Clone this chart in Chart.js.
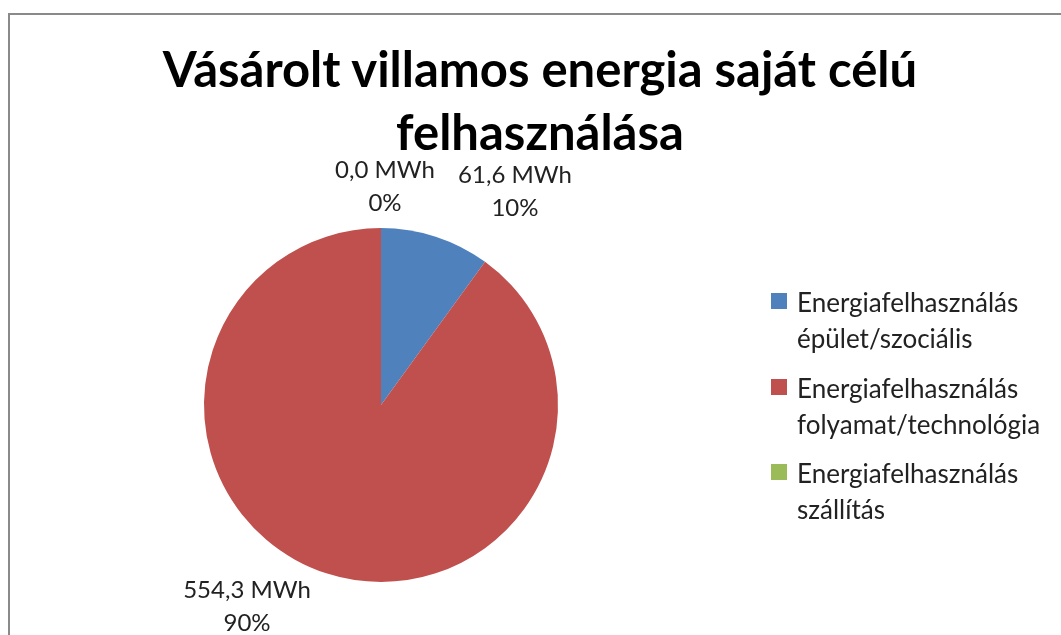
<!DOCTYPE html>
<html lang="hu">
<head>
  <meta charset="UTF-8" />
  <title>Vásárolt villamos energia saját célú felhasználása</title>
  <script src="https://cdn.jsdelivr.net/npm/chart.js"></script>
  <style>
    body { margin: 0; background: #fff; font-family: Lato, "Open Sans", sans-serif; }
    #wrap { position: relative; width: 1061px; height: 635px; overflow: hidden; }
    #frame {
      position: absolute; left: 8px; top: 13px; width: 1200px; height: 800px;
      border: 2px solid #8a8a8a; box-sizing: border-box;
    }
    canvas { position: absolute; left: 0; top: 0; }
    #title {
      position: absolute; left: 0; width: 1080px; top: 37px;
      text-align: center; font-weight: bold; font-size: 49px; line-height: 63px; color: #000;
    }
    #legend { position: absolute; left: 771px; top: 284px; font-size: 26px; color: #222; }
    .item { position: relative; padding-left: 26px; line-height: 36px; margin-bottom: 13.5px; }
    .box { position: absolute; left: 0; top: 9px; width: 16px; height: 16px; }
  </style>
</head>
<body>
  <div id="wrap">
    <div id="frame"></div>
    <canvas id="chart" width="1061" height="635"></canvas>
    <div id="title">Vásárolt villamos energia saját célú<br>felhasználása</div>
    <div id="legend"></div>
  </div>

  <script>
    // categories (legend text, two lines each)
    const categories = [
      ['Energiafelhasználás', 'épület/szociális'],
      ['Energiafelhasználás', 'folyamat/technológia'],
      ['Energiafelhasználás', 'szállítás']
    ];
    // purchased electricity, MWh
    const valuesMWh = [61.6, 554.3, 0.0];
    const colors = ['#4f81bd', '#c0504d', '#9bbb59'];

    // where each data label sits relative to its slice (px)
    const labelOffsets = [[70, -17], [-70, 4], [4, -12]];

    // legend built from the same arrays
    const legendEl = document.getElementById('legend');
    categories.forEach((lines, i) => {
      const div = document.createElement('div');
      div.className = 'item';
      div.innerHTML = '<span class="box" style="background:' + colors[i] + '"></span>' + lines.join('<br>');
      legendEl.appendChild(div);
    });

    const fmt = v => v.toFixed(1).replace('.', ',');

    // draws "x MWh / y%" labels outside the pie, like Excel does
    const pieLabels = {
      id: 'pieLabels',
      afterDatasetsDraw(chart) {
        const ctx = chart.ctx;
        const meta = chart.getDatasetMeta(0);
        const total = valuesMWh.reduce((a, b) => a + b, 0);
        ctx.save();
        ctx.font = '24px Lato, "Open Sans", sans-serif';
        ctx.fillStyle = '#222';
        ctx.textAlign = 'center';
        ctx.textBaseline = 'middle';
        meta.data.forEach((arc, i) => {
          const mid = (arc.startAngle + arc.endAngle) / 2;
          const d = arc.outerRadius + 30;
          const x = arc.x + Math.cos(mid) * d + labelOffsets[i][0];
          const y = arc.y + Math.sin(mid) * d + labelOffsets[i][1];
          const pct = Math.round(valuesMWh[i] / total * 100) + '%';
          ctx.fillText(fmt(valuesMWh[i]) + ' MWh', x, y - 16);
          ctx.fillText(pct, x, y + 17);
        });
        ctx.restore();
      }
    };

    new Chart(document.getElementById('chart'), {
      type: 'pie',
      data: {
        labels: categories.map(c => c.join(' ')),
        datasets: [{
          data: valuesMWh,
          backgroundColor: colors,
          borderWidth: 0
        }]
      },
      options: {
        responsive: false,
        animation: false,
        layout: { padding: { left: 204, right: 503, top: 228, bottom: 53 } },
        plugins: {
          legend: { display: false },
          tooltip: { enabled: false },
          title: { display: false }
        }
      },
      plugins: [pieLabels]
    });
  </script>
</body>
</html>
